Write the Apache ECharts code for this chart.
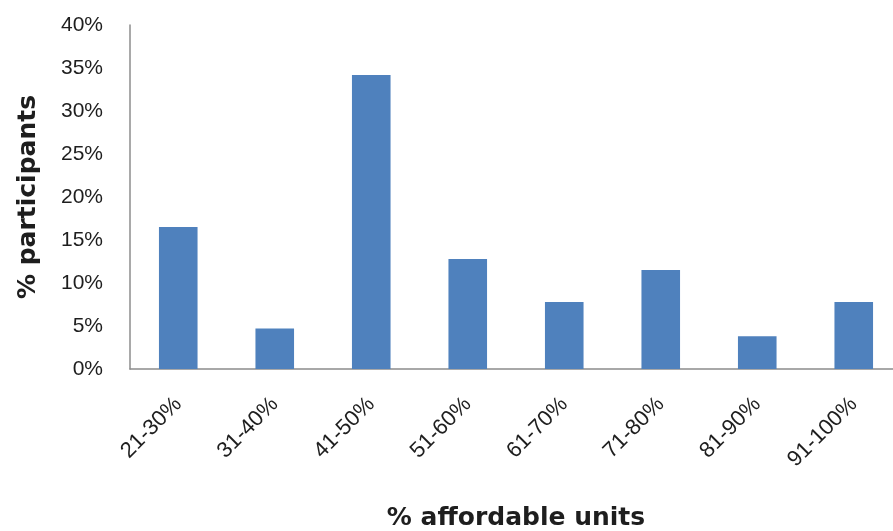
<!DOCTYPE html>
<html>
<head>
<meta charset="utf-8">
<script src="https://cdn.jsdelivr.net/npm/echarts@6/dist/echarts.min.js"></script>
<style>
  html, body { margin: 0; padding: 0; background: #fff; }
  #chart { width: 893px; height: 531px; }
</style>
</head>
<body>
<div id="chart"></div>
<script>
// Share of participants by percentage of affordable units
const categories = ['21-30%', '31-40%', '41-50%', '51-60%', '61-70%', '71-80%', '81-90%', '91-100%'];
const participants = [16.5, 4.7, 34.2, 12.8, 7.8, 11.5, 3.8, 7.8];
const yTicks = { min: 0, max: 40, interval: 5 };

const textColor = '#1e1e1e';
const chart = echarts.init(document.getElementById('chart'), null, { renderer: 'canvas' });

chart.setOption({
  animation: false,
  backgroundColor: '#ffffff',
  grid: {
    left: 130, top: 25, bottom: 162, right: -9,
    containLabel: false,
    outerBoundsMode: 'none'
  },
  xAxis: {
    type: 'category',
    data: categories,
    name: '% affordable units',
    nameLocation: 'middle',
    nameGap: 137,
    nameTextStyle: { fontFamily: 'DejaVu Sans', fontSize: 25, fontWeight: 'bold', color: textColor },
    axisLine: { lineStyle: { color: '#8c8c8c', width: 1.5 } },
    axisTick: { show: false },
    axisLabel: {
      rotate: 45,
      margin: 32,
      fontFamily: 'Liberation Sans',
      fontSize: 22,
      color: textColor,
      interval: 0
    }
  },
  yAxis: {
    type: 'value',
    min: yTicks.min,
    max: yTicks.max,
    interval: yTicks.interval,
    name: '% participants',
    nameLocation: 'middle',
    nameGap: 89,
    nameRotate: 90,
    nameTextStyle: { fontFamily: 'DejaVu Sans', fontSize: 25, fontWeight: 'bold', color: textColor },
    axisLine: { show: true, lineStyle: { color: '#8c8c8c', width: 1.5 } },
    axisTick: { show: false },
    splitLine: { show: false },
    axisLabel: {
      margin: 27,
      formatter: '{value}%',
      fontFamily: 'Liberation Sans',
      fontSize: 21,
      color: textColor
    }
  },
  series: [{
    type: 'bar',
    data: participants,
    barWidth: '40%',
    itemStyle: { color: '#4f81bd' }
  }]
});
</script>
</body>
</html>
